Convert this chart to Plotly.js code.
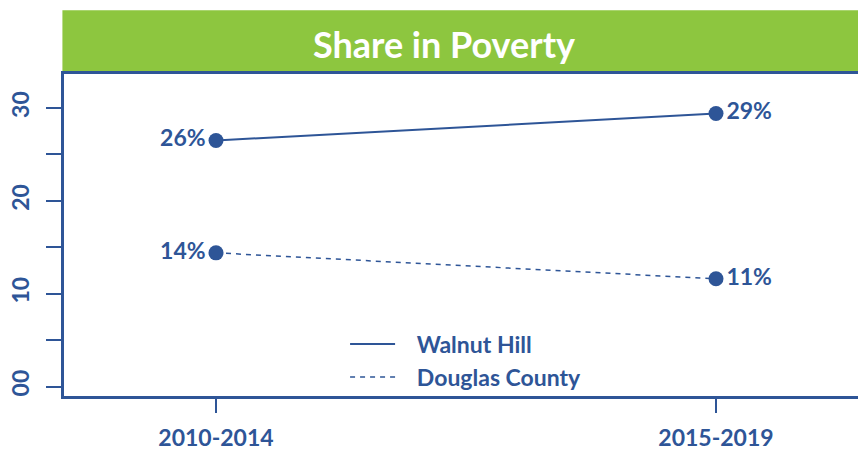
<!DOCTYPE html>
<html>
<head>
<meta charset="utf-8">
<script src="https://cdn.plot.ly/plotly-3.0.1.min.js"></script>
<style>html,body{margin:0;padding:0;background:#fff;}#chart{width:858px;height:451px;}</style>
</head>
<body>
<div id="chart"></div>
<script>
// Data
const periods = [1, 2];
const periodLabels = ["2010-2014", "2015-2019"];
const walnutHill = [26.5, 29.4];
const walnutHillLabels = ["26%", "29%"];
const douglasCounty = [14.4, 11.6];
const douglasCountyLabels = ["14%", "11%"];
const seriesNames = ["Walnut Hill", "Douglas County"];
const yTickVals = [0, 5, 10, 15, 20, 25, 30];
const yTickText = ["00", "", "10", "", "20", "", "30"];

const BLUE = "#2E5597";
const GREEN = "#8DC63F";
const FONT = "Lato, 'Open Sans', sans-serif";
const FS = 23;
const PAD = "\u00a0\u00a0\u00a0";

const textPos = ["middle left", "middle right"];

const traces = [
  {x: periods, y: walnutHill, mode: "lines", name: PAD + seriesNames[0],
   line: {color: BLUE, width: 2}, hoverinfo: "skip"},
  {x: periods, y: douglasCounty, mode: "lines", name: PAD + seriesNames[1],
   line: {color: BLUE, width: 1.5, dash: "5px,5px"}, hoverinfo: "skip"},
  {x: periods, y: walnutHill, mode: "markers+text", showlegend: false,
   text: walnutHillLabels, textposition: textPos,
   textfont: {family: FONT, size: FS, color: BLUE, weight: 700},
   marker: {color: BLUE, size: 15}},
  {x: periods, y: douglasCounty, mode: "markers+text", showlegend: false,
   text: douglasCountyLabels, textposition: textPos,
   textfont: {family: FONT, size: FS, color: BLUE, weight: 700},
   marker: {color: BLUE, size: 15}}
];

const layout = {
  width: 858, height: 451,
  margin: {l: 64, r: 0, t: 74, b: 55, pad: 0},
  paper_bgcolor: "#fff", plot_bgcolor: "#fff",
  font: {family: FONT, color: BLUE},
  title: {text: "<b>Share in Poverty</b>", font: {family: FONT, size: 36, color: "#fff"},
          x: 0.4786, xref: "paper", xanchor: "center",
          y: 0.90, yref: "container", yanchor: "middle"},
  xaxis: {range: [0.696, 2.284], tickvals: periods, ticktext: periodLabels,
          showgrid: false, zeroline: false, showline: true, linecolor: BLUE, linewidth: 3,
          mirror: true, ticks: "outside", ticklen: 14, tickwidth: 2, tickcolor: BLUE,
          ticklabelstandoff: 5,
          tickfont: {family: FONT, size: FS, color: BLUE, weight: 700}, fixedrange: true},
  yaxis: {range: [-1.02, 33.66], tickvals: yTickVals, ticktext: yTickText, tickangle: -90,
          showgrid: false, zeroline: false, showline: true, linecolor: BLUE, linewidth: 3,
          ticks: "outside", ticklen: 15, tickwidth: 2, tickcolor: BLUE,
          ticklabelstandoff: 8,
          tickfont: {family: FONT, size: FS, color: BLUE, weight: 700}, fixedrange: true},
  legend: {x: 0.354, y: 0.228, xanchor: "left", yanchor: "top", bgcolor: "rgba(0,0,0,0)",
           font: {family: FONT, size: FS, color: BLUE, weight: 700}, itemwidth: 45},
  shapes: [{type: "rect", xref: "paper", yref: "paper", x0: -0.002, x1: 1.01, y0: 1.004, y1: 1.198,
            fillcolor: GREEN, line: {width: 0}, layer: "below"}]
};

Plotly.newPlot("chart", traces, layout, {displayModeBar: false, staticPlot: true});
</script>
</body>
</html>
